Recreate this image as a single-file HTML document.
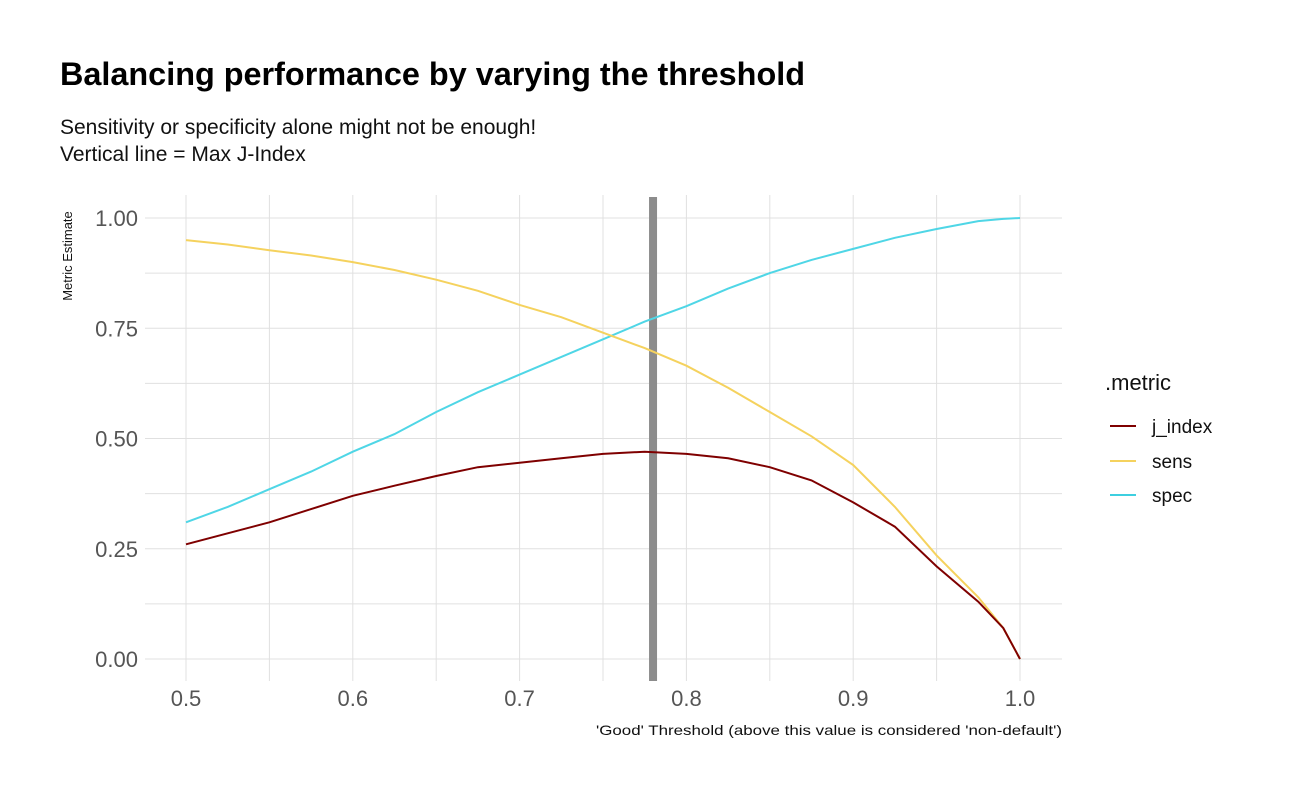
<!DOCTYPE html>
<html><head><meta charset="utf-8"><style>
body{margin:0;background:#fff;font-family:"Liberation Sans",sans-serif;}
svg{display:block}
</style></head><body>
<svg width="1296" height="800">
<text x="60" y="85" font-size="32" font-weight="bold" fill="#000" textLength="745" lengthAdjust="spacingAndGlyphs">Balancing performance by varying the threshold</text>
<text x="60" y="134" font-size="21" fill="#111">Sensitivity or specificity alone might not be enough!</text>
<text x="60" y="161" font-size="21" fill="#111">Vertical line = Max J-Index</text>
<g id="grid"></g>
<g id="marks"></g>
<g id="axes"></g>
<text x="72" y="256" font-size="13" fill="#111" transform="rotate(-90 72 256)" text-anchor="middle">Metric Estimate</text>
<text x="596" y="735" font-size="14" fill="#111" textLength="466" lengthAdjust="spacingAndGlyphs">'Good' Threshold (above this value is considered 'non-default')</text>
<g>
<text x="1105" y="390" font-size="22" fill="#111">.metric</text>
<line x1="1110" y1="426" x2="1136" y2="426" stroke="#7f0000" stroke-width="2"/>
<text x="1152" y="433" font-size="19" fill="#111">j_index</text>
<line x1="1110" y1="461" x2="1136" y2="461" stroke="#f5d25e" stroke-width="2"/>
<text x="1152" y="468" font-size="19" fill="#111">sens</text>
<line x1="1110" y1="495" x2="1136" y2="495" stroke="#3ecfe0" stroke-width="2"/>
<text x="1152" y="502" font-size="19" fill="#111">spec</text>
</g>
</svg>
<script>
const thresholds=[0.5,0.525,0.55,0.575,0.6,0.625,0.65,0.675,0.7,0.725,0.75,0.775,0.8,0.825,0.85,0.875,0.9,0.925,0.95,0.975,0.99,1.0];
const sens=[0.95,0.94,0.927,0.915,0.90,0.882,0.86,0.835,0.803,0.775,0.74,0.705,0.665,0.615,0.56,0.505,0.44,0.345,0.235,0.14,0.07,0.0];
const spec=[0.31,0.345,0.385,0.425,0.47,0.51,0.56,0.605,0.645,0.685,0.725,0.765,0.80,0.84,0.875,0.905,0.93,0.955,0.975,0.993,0.998,1.0];
const jIndex=[0.26,0.285,0.31,0.34,0.37,0.393,0.415,0.435,0.445,0.455,0.465,0.47,0.465,0.455,0.435,0.405,0.355,0.30,0.21,0.13,0.07,0.0];
const maxJ=0.78;
const xTicks=[0.5,0.6,0.7,0.8,0.9,1.0];
const xTickLabels=["0.5","0.6","0.7","0.8","0.9","1.0"];
const yTicks=[0,0.25,0.5,0.75,1.0];
const yTickLabels=["0.00","0.25","0.50","0.75","1.00"];
const X=v=>186+(v-0.5)*1668, Y=v=>659-v*441;
const ns="http://www.w3.org/2000/svg";
function mk(p,t,a){const e=document.createElementNS(ns,t);for(const k in a)e.setAttribute(k,a[k]);p.appendChild(e);return e;}
const grid=document.getElementById('grid'),marks=document.getElementById('marks'),axes=document.getElementById('axes');
for(let v=0.5;v<=1.0001;v+=0.05){const l=mk(grid,'line',{x1:X(v),x2:X(v),y1:195,y2:681,stroke:'#e0e0e0','stroke-width':1});

}
for(let v=0;v<=1.0001;v+=0.125){const l=mk(grid,'line',{x1:145,x2:1062,y1:Y(v),y2:Y(v),stroke:'#e0e0e0','stroke-width':1});

}
xTicks.forEach((v,i)=>{const t=mk(axes,'text',{x:X(v),y:706,'font-size':22,fill:'#555','text-anchor':'middle'});t.textContent=xTickLabels[i];

});
yTicks.forEach((v,i)=>{const t=mk(axes,'text',{x:138,y:Y(v)+8,'font-size':22,fill:'#555','text-anchor':'end'});t.textContent=yTickLabels[i];

});
const vl=mk(marks,'line',{x1:X(maxJ),x2:X(maxJ),y1:197,y2:681,stroke:'#8c8c8c','stroke-width':8});


function series(arr,color,name){const d=arr.map((v,i)=>(i?'L':'M')+X(thresholds[i]).toFixed(1)+','+Y(v).toFixed(1)).join('');
const p=mk(marks,'path',{d:d,fill:'none',stroke:color,'stroke-width':2});

}
series(spec,'#4fd6e6','spec-line');
series(sens,'#f5d25e','sens-line');
series(jIndex,'#7f0000','j-index-line');
</script>
</body></html>
